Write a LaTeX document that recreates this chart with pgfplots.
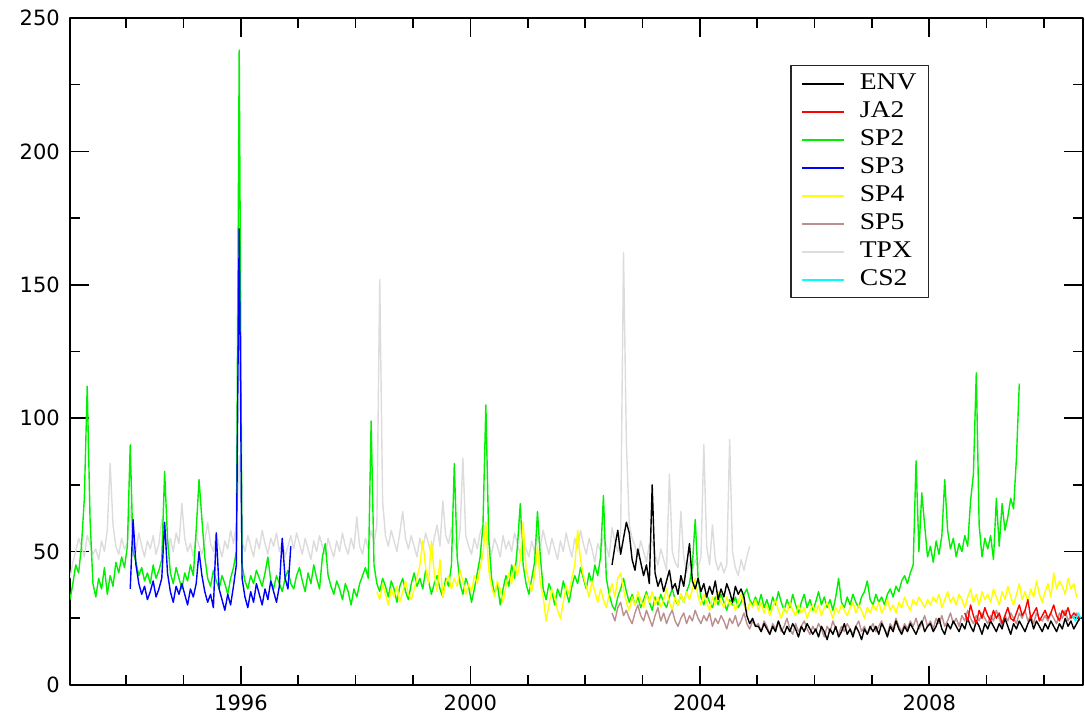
\documentclass[border=0pt]{standalone}
\usepackage{fontspec}
\setmainfont{Liberation Serif}
\newfontfamily\tickfont{DejaVu Sans}
\newfontfamily\legfont[FakeStretch=1.15]{Liberation Serif}
\usepackage{pgfplots}
\usepackage{pgfplotstable}
\pgfplotsset{compat=1.18}
\definecolor{cENV}{RGB}{0,0,0}
\definecolor{cJA2}{RGB}{255,0,0}
\definecolor{cSP2}{RGB}{0,240,0}
\definecolor{cSP3}{RGB}{0,0,255}
\definecolor{cSP4}{RGB}{255,255,0}
\definecolor{cSP5}{RGB}{188,143,143}
\definecolor{cTPX}{RGB}{220,220,220}
\definecolor{cCS2}{RGB}{0,255,255}

% SP2, start 1993.02, step 0.05
\pgfplotstableread[row sep=\\,header=false]{
32\\ 38\\ 45\\ 42\\ 52\\ 70\\ 112\\ 62\\ 38\\ 33\\ 40\\ 36\\ 44\\ 34\\ 41\\ 37\\ 46\\ 42\\ 48\\ 44\\
52\\ 90\\ 50\\ 46\\ 41\\ 44\\ 39\\ 42\\ 38\\ 45\\ 40\\ 43\\ 47\\ 80\\ 55\\ 42\\ 38\\ 44\\ 40\\ 36\\
42\\ 39\\ 45\\ 41\\ 58\\ 77\\ 62\\ 48\\ 40\\ 37\\ 43\\ 39\\ 36\\ 41\\ 38\\ 34\\ 40\\ 44\\ 50\\ 238\\
45\\ 39\\ 36\\ 41\\ 38\\ 43\\ 40\\ 37\\ 42\\ 48\\ 39\\ 36\\ 41\\ 38\\ 35\\ 40\\ 43\\ 38\\ 36\\ 41\\
44\\ 39\\ 35\\ 42\\ 38\\ 45\\ 40\\ 36\\ 48\\ 53\\ 41\\ 37\\ 34\\ 39\\ 36\\ 32\\ 38\\ 35\\ 30\\ 36\\
33\\ 38\\ 41\\ 44\\ 40\\ 99\\ 45\\ 38\\ 35\\ 40\\ 37\\ 33\\ 39\\ 36\\ 31\\ 37\\ 40\\ 35\\ 32\\ 38\\
42\\ 37\\ 40\\ 36\\ 43\\ 39\\ 34\\ 38\\ 41\\ 36\\ 33\\ 40\\ 37\\ 45\\ 83\\ 48\\ 38\\ 34\\ 40\\ 37\\
31\\ 36\\ 42\\ 48\\ 60\\ 105\\ 55\\ 40\\ 34\\ 38\\ 30\\ 36\\ 41\\ 37\\ 45\\ 40\\ 52\\ 68\\ 45\\ 38\\
34\\ 40\\ 46\\ 65\\ 48\\ 36\\ 32\\ 38\\ 35\\ 30\\ 36\\ 33\\ 39\\ 35\\ 31\\ 37\\ 41\\ 38\\ 44\\ 40\\
36\\ 42\\ 38\\ 45\\ 41\\ 48\\ 71\\ 40\\ 34\\ 30\\ 28\\ 33\\ 36\\ 40\\ 35\\ 31\\ 34\\ 30\\ 33\\ 29\\
32\\ 35\\ 31\\ 28\\ 33\\ 30\\ 34\\ 31\\ 29\\ 33\\ 36\\ 32\\ 30\\ 34\\ 31\\ 35\\ 38\\ 45\\ 62\\ 40\\
33\\ 30\\ 34\\ 31\\ 29\\ 33\\ 30\\ 34\\ 31\\ 28\\ 32\\ 30\\ 33\\ 29\\ 31\\ 34\\ 36\\ 32\\ 30\\ 33\\
30\\ 34\\ 29\\ 32\\ 28\\ 33\\ 30\\ 35\\ 31\\ 28\\ 32\\ 29\\ 34\\ 30\\ 27\\ 31\\ 34\\ 29\\ 32\\ 28\\
31\\ 35\\ 30\\ 33\\ 29\\ 32\\ 28\\ 33\\ 40\\ 31\\ 29\\ 33\\ 30\\ 34\\ 31\\ 29\\ 33\\ 35\\ 39\\ 32\\
30\\ 34\\ 31\\ 33\\ 30\\ 34\\ 36\\ 33\\ 37\\ 35\\ 39\\ 41\\ 38\\ 42\\ 45\\ 84\\ 50\\ 72\\ 60\\ 48\\
52\\ 46\\ 54\\ 49\\ 56\\ 77\\ 58\\ 51\\ 55\\ 48\\ 53\\ 50\\ 56\\ 52\\ 69\\ 79\\ 117\\ 60\\ 48\\ 55\\
51\\ 56\\ 47\\ 70\\ 52\\ 68\\ 58\\ 63\\ 70\\ 66\\ 85\\ 113\\
}\tabSPtwo

% TPX, start 1993.02
\pgfplotstableread[row sep=\\,header=false]{
40\\ 46\\ 50\\ 55\\ 52\\ 48\\ 56\\ 53\\ 49\\ 51\\ 47\\ 54\\ 50\\ 58\\ 83\\ 60\\ 52\\ 49\\ 55\\ 51\\
53\\ 67\\ 55\\ 50\\ 57\\ 52\\ 48\\ 54\\ 51\\ 56\\ 49\\ 53\\ 62\\ 58\\ 51\\ 55\\ 50\\ 57\\ 53\\ 68\\
55\\ 50\\ 53\\ 48\\ 56\\ 52\\ 49\\ 54\\ 61\\ 53\\ 50\\ 57\\ 52\\ 48\\ 54\\ 51\\ 58\\ 53\\ 60\\ 86\\
54\\ 50\\ 56\\ 52\\ 48\\ 55\\ 51\\ 58\\ 53\\ 49\\ 55\\ 52\\ 57\\ 50\\ 54\\ 48\\ 52\\ 56\\ 51\\ 57\\
53\\ 49\\ 55\\ 51\\ 47\\ 54\\ 50\\ 56\\ 52\\ 49\\ 55\\ 51\\ 48\\ 54\\ 50\\ 57\\ 52\\ 49\\ 55\\ 51\\
63\\ 52\\ 49\\ 55\\ 51\\ 58\\ 53\\ 60\\ 152\\ 69\\ 56\\ 52\\ 58\\ 54\\ 50\\ 57\\ 65\\ 55\\ 51\\ 56\\
52\\ 48\\ 55\\ 51\\ 57\\ 53\\ 49\\ 55\\ 60\\ 52\\ 69\\ 56\\ 53\\ 59\\ 54\\ 50\\ 58\\ 85\\ 56\\ 52\\
49\\ 55\\ 51\\ 57\\ 60\\ 58\\ 53\\ 49\\ 55\\ 52\\ 48\\ 56\\ 51\\ 54\\ 50\\ 57\\ 53\\ 49\\ 55\\ 51\\
48\\ 54\\ 50\\ 56\\ 52\\ 58\\ 53\\ 49\\ 55\\ 51\\ 47\\ 54\\ 50\\ 57\\ 52\\ 48\\ 55\\ 51\\ 58\\ 53\\
49\\ 55\\ 51\\ 46\\ 53\\ 50\\ 56\\ 52\\ 48\\ 59\\ 54\\ 50\\ 57\\ 162\\ 91\\ 60\\ 55\\ 52\\ 48\\ 54\\
50\\ 46\\ 53\\ 54\\ 49\\ 45\\ 51\\ 47\\ 43\\ 79\\ 50\\ 46\\ 44\\ 65\\ 48\\ 42\\ 46\\ 43\\ 47\\ 44\\
48\\ 90\\ 52\\ 45\\ 60\\ 47\\ 43\\ 46\\ 42\\ 45\\ 92\\ 50\\ 44\\ 41\\ 47\\ 43\\ 48\\ 52\\
}\tabTPX

% SP3, start 1994.07
\pgfplotstableread[row sep=\\,header=false]{
36\\ 62\\ 45\\ 38\\ 34\\ 37\\ 32\\ 35\\ 39\\ 33\\ 36\\ 40\\ 61\\ 42\\ 35\\ 31\\ 37\\ 34\\ 38\\
34\\ 30\\ 36\\ 33\\ 38\\ 50\\ 41\\ 35\\ 31\\ 34\\ 29\\ 57\\ 36\\ 32\\ 28\\ 34\\ 30\\ 37\\ 45\\ 171\\
40\\ 33\\ 29\\ 35\\ 31\\ 38\\ 34\\ 30\\ 36\\ 32\\ 39\\ 35\\ 31\\ 37\\ 55\\ 40\\ 36\\ 52\\
}\tabSPthree

% SP4, start 1998.37
\pgfplotstableread[row sep=\\,header=false]{
35\\ 32\\ 38\\ 34\\ 30\\ 36\\ 33\\ 37\\ 31\\ 35\\ 39\\ 34\\ 32\\
36\\ 40\\ 45\\ 54\\ 44\\ 38\\ 54\\ 42\\ 35\\ 47\\ 33\\ 38\\ 41\\ 36\\ 40\\ 37\\ 43\\ 39\\ 34\\ 38\\
35\\ 41\\ 38\\ 44\\ 49\\ 61\\ 43\\ 37\\ 33\\ 39\\ 36\\ 31\\ 37\\ 42\\ 38\\ 45\\ 41\\ 47\\ 61\\ 44\\
39\\ 35\\ 41\\ 52\\ 38\\ 33\\ 24\\ 30\\ 36\\ 33\\ 28\\ 25\\ 31\\ 37\\ 34\\ 40\\ 45\\ 58\\ 47\\ 41\\
37\\ 33\\ 39\\ 35\\ 31\\ 36\\ 32\\ 29\\ 34\\ 38\\ 33\\ 40\\ 42\\ 36\\ 31\\ 28\\ 33\\ 30\\ 35\\ 32\\
29\\ 34\\ 31\\ 35\\ 30\\ 33\\ 29\\ 32\\ 36\\ 31\\ 28\\ 33\\ 30\\ 34\\ 31\\ 35\\ 32\\ 36\\ 40\\ 33\\
30\\ 34\\ 31\\ 28\\ 33\\ 30\\ 35\\ 31\\ 29\\ 33\\ 30\\ 32\\ 28\\ 31\\ 34\\ 30\\ 27\\ 31\\ 29\\ 32\\
28\\ 31\\ 27\\ 30\\ 26\\ 29\\ 32\\ 28\\ 25\\ 29\\ 27\\ 31\\ 28\\ 26\\ 30\\ 27\\ 29\\ 25\\ 28\\ 30\\
27\\ 30\\ 26\\ 29\\ 31\\ 28\\ 25\\ 29\\ 27\\ 30\\ 28\\ 26\\ 29\\ 31\\ 27\\ 30\\ 28\\ 25\\ 29\\ 27\\
30\\ 28\\ 31\\ 27\\ 29\\ 32\\ 28\\ 30\\ 27\\ 31\\ 29\\ 33\\ 30\\ 28\\ 32\\ 30\\ 33\\ 31\\ 29\\ 32\\
30\\ 33\\ 31\\ 34\\ 29\\ 32\\ 35\\ 31\\ 33\\ 30\\ 34\\ 32\\ 29\\ 33\\ 36\\ 31\\ 34\\ 30\\ 35\\ 32\\
34\\ 31\\ 36\\ 33\\ 30\\ 35\\ 32\\ 37\\ 33\\ 30\\ 34\\ 38\\ 32\\ 35\\ 31\\ 36\\ 33\\ 39\\ 34\\ 31\\
35\\ 38\\ 33\\ 42\\ 36\\ 39\\ 37\\ 34\\ 40\\ 36\\ 38\\ 33\\
}\tabSPfour

% SP5, start 2002.47
\pgfplotstableread[row sep=\\,header=false]{
27\\ 24\\ 29\\ 31\\ 26\\ 28\\ 25\\ 23\\ 27\\ 30\\ 26\\
24\\ 28\\ 25\\ 22\\ 26\\ 29\\ 24\\ 27\\ 23\\ 26\\ 28\\ 24\\ 22\\ 25\\ 27\\ 23\\ 26\\ 24\\ 28\\ 25\\
23\\ 26\\ 24\\ 27\\ 22\\ 25\\ 23\\ 26\\ 24\\ 21\\ 25\\ 23\\ 26\\ 22\\ 24\\ 27\\ 23\\ 21\\ 24\\ 22\\
23\\ 20\\ 24\\ 22\\ 19\\ 23\\ 21\\ 24\\ 20\\ 22\\ 25\\ 21\\ 19\\ 23\\ 20\\ 22\\ 24\\ 21\\ 19\\ 22\\
20\\ 23\\ 21\\ 18\\ 22\\ 20\\ 24\\ 21\\ 19\\ 22\\ 20\\ 23\\ 21\\ 19\\ 22\\ 24\\ 20\\ 22\\ 19\\ 21\\
23\\ 20\\ 22\\ 24\\ 21\\ 19\\ 23\\ 21\\ 25\\ 22\\ 20\\ 23\\ 21\\ 24\\ 22\\ 25\\ 21\\ 23\\ 26\\ 22\\
24\\ 21\\ 25\\ 23\\ 26\\ 22\\ 24\\ 27\\ 23\\ 25\\ 22\\ 26\\ 24\\ 28\\ 25\\ 23\\ 26\\ 24\\ 27\\ 25\\
23\\ 26\\ 24\\ 28\\ 25\\ 22\\ 26\\ 24\\ 27\\ 25\\ 23\\ 27\\ 25\\ 28\\ 24\\ 26\\ 23\\ 27\\ 25\\ 24\\
26\\ 24\\ 27\\ 25\\ 23\\ 27\\ 25\\ 28\\ 24\\ 26\\ 25\\ 27\\ 24\\
}\tabSPfive

% ENV, start 2002.47
\pgfplotstableread[row sep=\\,header=false]{
45\\ 52\\ 58\\ 49\\ 55\\ 61\\ 57\\ 47\\ 43\\ 51\\ 46\\
41\\ 45\\ 38\\ 75\\ 42\\ 37\\ 40\\ 35\\ 39\\ 43\\ 36\\ 38\\ 34\\ 41\\ 37\\ 45\\ 53\\ 39\\ 36\\ 40\\
35\\ 38\\ 33\\ 37\\ 34\\ 39\\ 32\\ 36\\ 33\\ 38\\ 35\\ 31\\ 37\\ 34\\ 36\\ 33\\ 26\\ 23\\ 25\\ 22\\
22\\ 20\\ 23\\ 21\\ 19\\ 22\\ 20\\ 24\\ 21\\ 19\\ 22\\ 20\\ 23\\ 21\\ 18\\ 22\\ 20\\ 23\\ 21\\ 19\\
21\\ 18\\ 22\\ 20\\ 17\\ 21\\ 19\\ 22\\ 18\\ 20\\ 23\\ 19\\ 21\\ 18\\ 22\\ 20\\ 17\\ 21\\ 19\\ 22\\
20\\ 22\\ 19\\ 23\\ 21\\ 18\\ 22\\ 20\\ 24\\ 21\\ 19\\ 22\\ 20\\ 23\\ 21\\ 19\\ 22\\ 24\\ 20\\ 22\\
23\\ 20\\ 22\\ 25\\ 21\\ 19\\ 23\\ 21\\ 24\\ 22\\ 20\\ 23\\ 21\\ 25\\ 22\\ 20\\ 24\\ 22\\ 19\\ 23\\
21\\ 24\\ 22\\ 20\\ 23\\ 21\\ 25\\ 22\\ 19\\ 23\\ 21\\ 24\\ 22\\ 20\\ 23\\ 25\\ 21\\ 24\\ 22\\ 20\\
23\\ 21\\ 24\\ 22\\ 20\\ 23\\ 21\\ 25\\ 22\\ 24\\ 21\\ 23\\ 25\\
}\tabENV

% JA2, start 2008.62
\pgfplotstableread[row sep=\\,header=false]{
27\\ 24\\ 30\\ 26\\ 23\\ 28\\ 25\\ 29\\
26\\ 24\\ 28\\ 25\\ 27\\ 23\\ 26\\ 29\\ 25\\ 24\\ 27\\ 30\\ 26\\ 28\\ 32\\ 25\\ 27\\ 29\\ 24\\ 26\\
28\\ 25\\ 27\\ 30\\ 26\\ 24\\ 28\\ 26\\ 29\\ 25\\ 27\\ 26\\ 25\\
}\tabJAtwo

\begin{document}
\begin{tikzpicture}
\path[use as bounding box] (-70bp,-32bp) rectangle (1015bp,685bp);
\begin{axis}[
  at={(0,0)}, anchor=south west,
  scale only axis, width=1013bp, height=667bp,
  xmin=1993.02, xmax=2010.68, ymin=0, ymax=250,
  xtick={1996,2000,2004,2008},
  minor xtick={1994,1995,1997,1998,1999,2001,2002,2003,2005,2006,2007,2009,2010},
  ytick={0,50,100,150,200,250},
  minor ytick={25,75,125,175,225},
  tick align=inside,
  major tick length=19bp, minor tick length=10bp,
  every tick/.style={black, line width=1.6bp},
  axis line style={black, line width=1.8bp},
  /pgf/number format/1000 sep={},
  /pgf/number format/assume math mode=true,
  ticklabel style={font=\tickfont\fontsize{21bp}{21bp}\selectfont, inner sep=0pt},
  xticklabel style={yshift=-10bp},
  yticklabel style={xshift=-10bp},
  legend cell align=left,
  legend style={at={(rel axis cs:0.711,0.9295)}, anchor=north west,
    draw=black!85, line width=1.3bp, inner xsep=10bp, inner ysep=4bp,
    font=\legfont\fontsize{24bp}{28bp}\selectfont, row sep=0pt,
    /tikz/every odd column/.append style={column sep=13bp},
    nodes={text height=17bp, text depth=5bp, inner ysep=3bp}},
  legend image code/.code={\draw[#1, line width=2bp] (0bp,0bp) -- (42bp,0bp);},
  line join=round,
]
\addlegendimage{cENV}\addlegendentry{ENV}
\addlegendimage{cJA2}\addlegendentry{JA2}
\addlegendimage{cSP2}\addlegendentry{SP2}
\addlegendimage{cSP3}\addlegendentry{SP3}
\addlegendimage{cSP4}\addlegendentry{SP4}
\addlegendimage{cSP5}\addlegendentry{SP5}
\addlegendimage{cTPX}\addlegendentry{TPX}
\addlegendimage{cCS2}\addlegendentry{CS2}

\addplot[forget plot, cTPX, line width=1.4bp] table[x expr=1993.02+\coordindex*0.05, y index=0] {\tabTPX};
\addplot[forget plot, cSP2, line width=1.4bp] table[x expr=1993.02+\coordindex*0.05, y index=0] {\tabSPtwo};
\addplot[forget plot, cSP3, line width=1.4bp] table[x expr=1994.07+\coordindex*0.05, y index=0] {\tabSPthree};
\addplot[forget plot, cSP4, line width=1.4bp] table[x expr=1998.37+\coordindex*0.05, y index=0] {\tabSPfour};
\addplot[forget plot, cSP5, line width=1.4bp] table[x expr=2002.47+\coordindex*0.05, y index=0] {\tabSPfive};
\addplot[forget plot, cENV, line width=1.4bp] table[x expr=2002.47+\coordindex*0.05, y index=0] {\tabENV};
\addplot[forget plot, cJA2, line width=1.4bp] table[x expr=2008.62+\coordindex*0.05, y index=0] {\tabJAtwo};
\addplot[forget plot, cCS2, line width=1.4bp] coordinates {(2010.50,26) (2010.55,24) (2010.60,27) (2010.64,25)};
\end{axis}
\end{tikzpicture}
\end{document}
